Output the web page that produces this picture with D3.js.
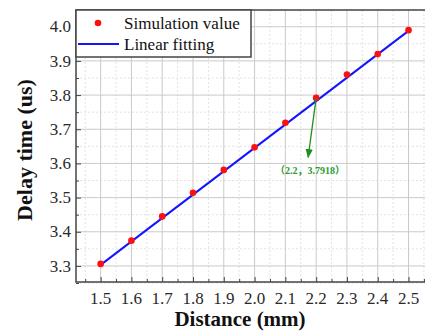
<!DOCTYPE html>
<html>
<head>
<meta charset="utf-8">
<script src="https://cdn.jsdelivr.net/npm/d3@7"></script>
<style>
  body { margin: 0; background: #fff; }
  svg { display: block; }
  text { font-family: "Liberation Serif", "Times New Roman", serif; }
</style>
</head>
<body>
<div id="chart"></div>
<script>
// simulated delay vs distance
var distance = [1.5, 1.6, 1.7, 1.8, 1.9, 2.0, 2.1, 2.2, 2.3, 2.4, 2.5];
var delay = [3.306, 3.374, 3.445, 3.514, 3.581, 3.647, 3.719, 3.7918, 3.860, 3.920, 3.990];
// linear fitting end points
var fitX = [1.5, 2.5];
var fitY = [3.303, 3.988];
var xTicks = [1.5, 1.6, 1.7, 1.8, 1.9, 2.0, 2.1, 2.2, 2.3, 2.4, 2.5];
var yTicks = [3.3, 3.4, 3.5, 3.6, 3.7, 3.8, 3.9, 4.0];
var legendLabels = ["Simulation value", "Linear fitting"];
var noteText = "（2.2，3.7918）";

var W = 425, H = 332;
var mLeft = 76, mTop = 10, mBottom = 282, mRight = 427;

var svg = d3.select("#chart").append("svg")
  .attr("width", W).attr("height", H);

var x = d3.scaleLinear().domain([1.42, 2.56]).range([mLeft, mRight]);
var y = d3.scaleLinear().domain([3.253, 4.049]).range([mBottom, mTop]);

// minor grid
var xMinor = xTicks.map(function(d){ return d - 0.05; }).concat([2.55]);
var yMinor = yTicks.map(function(d){ return d - 0.05; });

var grid = svg.append("g");
grid.selectAll(".xminor").data(xMinor).enter().append("line")
  .attr("x1", function(d){ return x(d); }).attr("x2", function(d){ return x(d); })
  .attr("y1", mTop).attr("y2", mBottom)
  .attr("stroke", "#e2e2e2").attr("stroke-width", 1).attr("stroke-dasharray", "2,2");
grid.selectAll(".yminor").data(yMinor).enter().append("line")
  .attr("x1", mLeft).attr("x2", mRight)
  .attr("y1", function(d){ return y(d); }).attr("y2", function(d){ return y(d); })
  .attr("stroke", "#e2e2e2").attr("stroke-width", 1).attr("stroke-dasharray", "2,2");
grid.selectAll(".xmajor").data(xTicks).enter().append("line")
  .attr("x1", function(d){ return x(d); }).attr("x2", function(d){ return x(d); })
  .attr("y1", mTop).attr("y2", mBottom)
  .attr("stroke", "#cacaca").attr("stroke-width", 1);
grid.selectAll(".ymajor").data(yTicks).enter().append("line")
  .attr("x1", mLeft).attr("x2", mRight)
  .attr("y1", function(d){ return y(d); }).attr("y2", function(d){ return y(d); })
  .attr("stroke", "#cacaca").attr("stroke-width", 1);

// axes, ticks pointing inward
var xAxis = d3.axisTop(x).tickValues(xTicks).tickSize(5).tickFormat("");
var xAxisMinor = d3.axisTop(x).tickValues(xMinor).tickSize(3).tickFormat("");
var yAxis = d3.axisRight(y).tickValues(yTicks).tickSize(5).tickFormat("");
var yAxisMinor = d3.axisRight(y).tickValues(yMinor).tickSize(3).tickFormat("");

[xAxis, xAxisMinor].forEach(function(a){
  svg.append("g").attr("transform", "translate(0," + mBottom + ")").call(a)
    .call(function(g){ g.select(".domain").remove(); g.selectAll("line").attr("stroke", "#444"); });
});
[yAxis, yAxisMinor].forEach(function(a){
  svg.append("g").attr("transform", "translate(" + mLeft + ",0)").call(a)
    .call(function(g){ g.select(".domain").remove(); g.selectAll("line").attr("stroke", "#444"); });
});

// tick labels
svg.append("g").selectAll("text").data(xTicks).enter().append("text")
  .attr("x", function(d){ return x(d); }).attr("y", mBottom + 22)
  .attr("text-anchor", "middle").attr("font-size", 17).attr("fill", "#2a2a2a")
  .text(function(d){ return d.toFixed(1); });
svg.append("g").selectAll("text").data(yTicks).enter().append("text")
  .attr("x", mLeft - 5).attr("y", function(d){ return y(d); }).attr("dy", "0.33em")
  .attr("text-anchor", "end").attr("font-size", 17).attr("fill", "#2a2a2a")
  .text(function(d){ return d.toFixed(1); });

// frame
svg.append("path")
  .attr("d", "M" + mRight + "," + mTop + "H" + mLeft + "V" + mBottom + "H" + mRight)
  .attr("fill", "none").attr("stroke", "#444").attr("stroke-width", 1.5);

// fitted line
var line = d3.line().x(function(d){ return x(d[0]); }).y(function(d){ return y(d[1]); });
svg.append("path").datum(d3.zip(fitX, fitY))
  .attr("d", line).attr("fill", "none").attr("stroke", "#1414ff").attr("stroke-width", 2);

// simulation points
svg.append("g").selectAll("circle").data(d3.zip(distance, delay)).enter().append("circle")
  .attr("cx", function(d){ return x(d[0]); }).attr("cy", function(d){ return y(d[1]); })
  .attr("r", 3.3).attr("fill", "#ff1010");

// annotation
svg.append("defs").append("marker")
  .attr("id", "arr").attr("viewBox", "0 0 10 10").attr("refX", 9).attr("refY", 5)
  .attr("markerWidth", 7).attr("markerHeight", 7).attr("orient", "auto")
  .append("path").attr("d", "M0,1L10,5L0,9Z").attr("fill", "#1f8f1f");
svg.append("line")
  .attr("x1", x(2.2)).attr("y1", y(3.7918))
  .attr("x2", x(2.174)).attr("y2", y(3.618))
  .attr("stroke", "#1f8f1f").attr("stroke-width", 1.3).attr("marker-end", "url(#arr)");
svg.append("text")
  .attr("x", x(2.18)).attr("y", y(3.568))
  .attr("text-anchor", "middle").attr("font-size", 10).attr("font-weight", "bold")
  .style("font-family", "'Liberation Serif', 'Noto Sans CJK SC', serif")
  .attr("fill", "#2a9a2a").text(noteText);

// legend
var legend = svg.append("g");
legend.append("rect")
  .attr("x", mLeft).attr("y", mTop).attr("width", 175).attr("height", 47)
  .attr("fill", "#fff").attr("stroke", "#444").attr("stroke-width", 1.5);
legend.append("circle").attr("cx", 98).attr("cy", 23).attr("r", 3.3).attr("fill", "#ff1010");
legend.append("line").attr("x1", 78).attr("x2", 119).attr("y1", 44).attr("y2", 44)
  .attr("stroke", "#1414ff").attr("stroke-width", 2);
legend.selectAll(".lt").data(legendLabels).enter().append("text")
  .attr("x", 124).attr("y", function(d, i){ return 29 + i * 21; })
  .attr("font-size", 17).attr("fill", "#111")
  .text(function(d){ return d; });

// axis titles
svg.append("text")
  .attr("x", 240).attr("y", 326)
  .attr("text-anchor", "middle").attr("font-size", 21).attr("font-weight", "bold")
  .attr("fill", "#111").text("Distance (mm)");
svg.append("text")
  .attr("transform", "translate(32,150) rotate(-90)")
  .attr("text-anchor", "middle").attr("font-size", 22).attr("font-weight", "bold")
  .attr("fill", "#111").text("Delay time (us)");
</script>
</body>
</html>
